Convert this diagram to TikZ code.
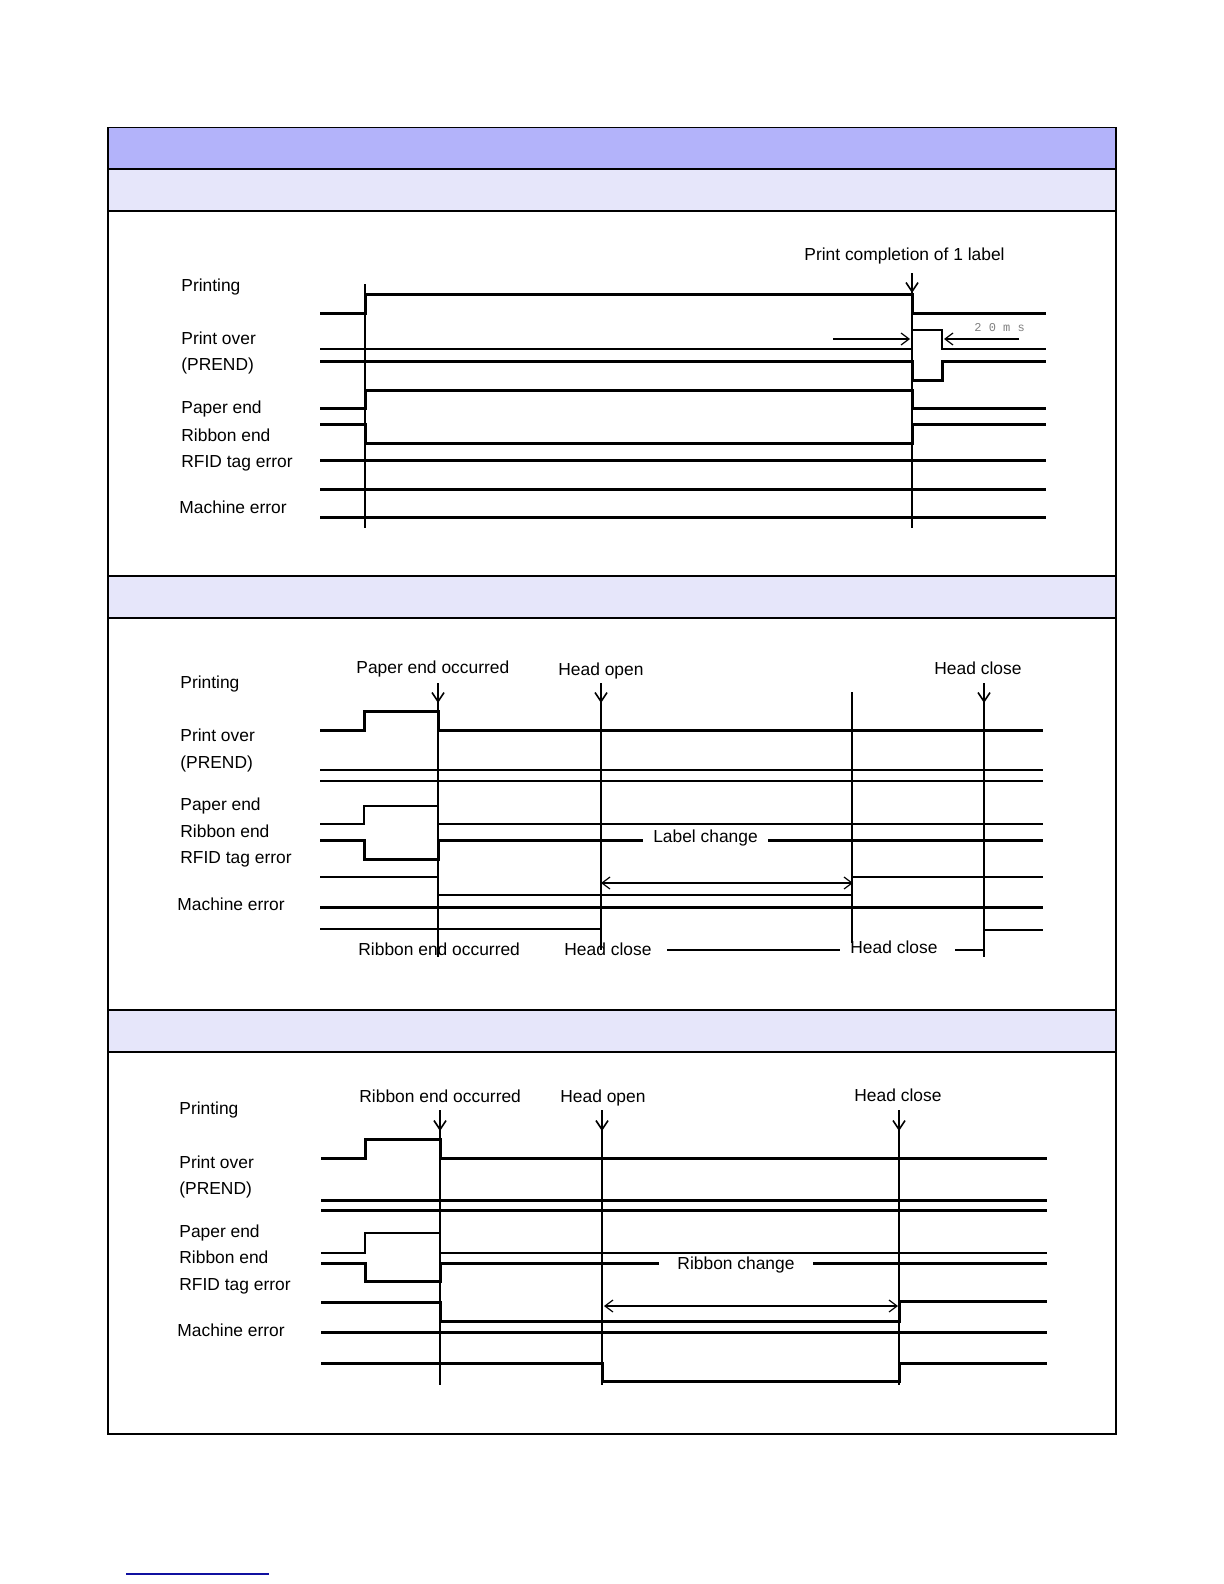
\documentclass[tikz,border=0pt]{standalone}
\usepackage{fontspec}
\setmainfont{Liberation Sans}
\newfontfamily\msfont{Liberation Mono}
\usetikzlibrary{arrows.meta}
\definecolor{hdrblue}{HTML}{B3B3FA}
\definecolor{bandblue}{HTML}{E6E6FA}
\definecolor{linkblue}{HTML}{1010A0}
\begin{document}
\begin{tikzpicture}[x=0.5pt,y=-0.5pt,
  lbl/.style={anchor=base west, inner sep=0pt, font=\fontsize{8.7}{10}\selectfont},
  gaplbl/.style={anchor=base, fill=white, inner xsep=5pt, inner ysep=1pt, font=\fontsize{8.7}{10}\selectfont},
  sig/.style={line width=1.5pt, line join=miter},
  sigmid/.style={line width=1.2pt, line join=miter},
  sigthin/.style={line width=1pt, line join=miter},
  evline/.style={line width=1pt},
  evarrow/.style={line width=0.8pt, -{Straight Barb[length=4.5pt,width=6pt]}},
  dimarrow/.style={line width=0.6pt, {Straight Barb[length=4pt,width=6pt]}-{Straight Barb[length=4pt,width=6pt]}},
  onearrow/.style={line width=0.6pt, -{Straight Barb[length=4pt,width=6pt]}},
  frame/.style={line width=0.7pt}]
\useasboundingbox (0,0) rectangle (1224,1584);

% ---------- frame and bands ----------
\fill[hdrblue] (108,127.5) rectangle (1116,169);
\fill[bandblue] (108,169) rectangle (1116,211);
\fill[bandblue] (108,576) rectangle (1116,618);
\fill[bandblue] (108,1010) rectangle (1116,1052);
\draw[frame] (108,127.5) rectangle (1116,1434);
\foreach \yy in {169,211,576,618,1010,1052} \draw[frame] (108,\yy) -- (1116,\yy);

% ================= PANEL 1 =================
\node[lbl] (a1) at (181,291) {Printing};
\node[lbl] (a2) at (181,344) {Print over};
\node[lbl] (a3) at (181,370) {(PREND)};
\node[lbl] (a4) at (181,413) {Paper end};
\node[lbl] (a5) at (181,441) {Ribbon end};
\node[lbl] (a6) at (181,467) {RFID tag error};
\node[lbl] (a7) at (179,513) {Machine error};
\node[lbl] (a8) at (804,260) {Print completion of 1 label};
\node[anchor=base west, inner sep=0pt, text=gray, font=\msfont\fontsize{6}{7}\selectfont] (a9) at (974,331) {2 0 m s};

\draw[sig] (320,313) -- (365,313) -- (365,294) -- (912,294) -- (912,313) -- (1046,313);
\draw[sigthin] (320,349) -- (912,349) -- (912,330) -- (942,330) -- (942,349) -- (1046,349);
\draw[sig] (320,361) -- (912,361) -- (912,380) -- (942,380) -- (942,361) -- (1046,361);
\draw[sig] (320,408) -- (365,408) -- (365,390) -- (912,390) -- (912,408) -- (1046,408);
\draw[sig] (320,424) -- (365,424) -- (365,443) -- (912,443) -- (912,424) -- (1046,424);
\draw[sig] (320,460) -- (1046,460);
\draw[sig] (320,489) -- (1046,489);
\draw[sig] (320,517) -- (1046,517);

\coordinate (e1t) at (365,284);  \coordinate (e1b) at (365,528);
\coordinate (e2t) at (912,273);  \coordinate (e2a) at (912,293); \coordinate (e2b) at (912,528);
\draw[evline] (e1t) -- (e1b);
\draw[evline] (e2t) -- (e2b);
\draw[evarrow] (e2t) -- (e2a);
\coordinate (ms1s) at (833,339); \coordinate (ms1e) at (910,339);
\coordinate (ms2s) at (1019,339); \coordinate (ms2e) at (944,339);
\draw[onearrow] (ms1s) -- (ms1e);
\draw[onearrow] (ms2s) -- (ms2e);

% ================= PANEL 2 =================
\node[lbl] (b1) at (180,688) {Printing};
\node[lbl] (b2) at (180,741) {Print over};
\node[lbl] (b3) at (180,768) {(PREND)};
\node[lbl] (b4) at (180,810) {Paper end};
\node[lbl] (b5) at (180,837) {Ribbon end};
\node[lbl] (b6) at (180,863) {RFID tag error};
\node[lbl] (b7) at (177,910) {Machine error};
\node[lbl] (b8) at (356,673) {Paper end occurred};
\node[lbl] (b9) at (558,675) {Head open};
\node[lbl] (b10) at (934,674) {Head close};

\draw[sig] (320,730) -- (364,730) -- (364,711) -- (438,711) -- (438,730) -- (1043,730);
\draw[sigthin] (320,770) -- (1043,770);
\draw[sigthin] (320,781) -- (1043,781);
\draw[sigthin] (320,824) -- (364,824) -- (364,806) -- (438,806) -- (438,824) -- (1043,824);
\draw[sig] (320,840) -- (364,840) -- (364,859) -- (438,859) -- (438,840) -- (1043,840);
\draw[sigmid] (320,877) -- (438,877) -- (438,895) -- (852,895) -- (852,877) -- (1043,877);
\draw[sig] (320,907) -- (1043,907);
\draw[sigmid] (320,929) -- (601,929) -- (601,950) -- (984,950) -- (984,930) -- (1043,930);

\node[gaplbl] (b11) at (705.5,842) {Label change};
\node[lbl] (b12) at (358,955) {Ribbon end occurred};
\node[gaplbl, anchor=base west, inner xsep=0pt] (b13) at (564,955) {Head close\hspace*{8pt}};
\node[gaplbl, anchor=base west, inner xsep=0pt] (b14) at (840,953) {\hspace*{5pt}Head close\hspace*{9pt}};

\coordinate (f1t) at (438,683); \coordinate (f1a) at (438,703); \coordinate (f1b) at (438,957);
\coordinate (f2t) at (601,683); \coordinate (f2a) at (601,703); \coordinate (f2b) at (601,950);
\coordinate (f3t) at (852,692); \coordinate (f3b) at (852,943);
\coordinate (f4t) at (984,683); \coordinate (f4a) at (984,703); \coordinate (f4b) at (984,957);
\draw[evline] (f1t) -- (f1b);
\draw[evline] (f2t) -- (f2b);
\draw[line width=1.3pt] (f3t) -- (f3b);
\draw[evline] (f4t) -- (f4b);
\draw[evarrow] (f1t) -- (f1a);
\draw[evarrow] (f2t) -- (f2a);
\draw[evarrow] (f4t) -- (f4a);
\coordinate (lc1) at (601,883); \coordinate (lc2) at (853,883);
\draw[dimarrow] (lc1) -- (lc2);

% ================= PANEL 3 =================
\node[lbl] (c1) at (179,1114) {Printing};
\node[lbl] (c2) at (179,1168) {Print over};
\node[lbl] (c3) at (179,1194) {(PREND)};
\node[lbl] (c4) at (179,1237) {Paper end};
\node[lbl] (c5) at (179,1263) {Ribbon end};
\node[lbl] (c6) at (179,1290) {RFID tag error};
\node[lbl] (c7) at (177,1336) {Machine error};
\node[lbl] (c8) at (359,1102) {Ribbon end occurred};
\node[lbl] (c9) at (560,1102) {Head open};
\node[lbl] (c10) at (854,1101) {Head close};

\draw[sig] (321,1158) -- (365,1158) -- (365,1139) -- (440,1139) -- (440,1158) -- (1047,1158);
\draw[sig] (321,1200) -- (1047,1200);
\draw[sig] (321,1210) -- (1047,1210);
\draw[sigmid] (321,1253) -- (365,1253) -- (365,1233) -- (440,1233) -- (440,1253) -- (1047,1253);
\draw[sig] (321,1263) -- (365,1263) -- (365,1281) -- (440,1281) -- (440,1263) -- (1047,1263);
\draw[sig] (321,1302) -- (440,1302) -- (440,1321) -- (899,1321) -- (899,1301) -- (1047,1301);
\draw[sig] (321,1332) -- (1047,1332);
\draw[sig] (321,1363) -- (602,1363) -- (602,1381) -- (899,1381) -- (899,1363) -- (1047,1363);

\node[gaplbl, inner xsep=9pt] (c11) at (736,1269) {Ribbon change};

\coordinate (g1t) at (440,1110); \coordinate (g1a) at (440,1131); \coordinate (g1b) at (440,1385);
\coordinate (g2t) at (602,1110); \coordinate (g2a) at (602,1131); \coordinate (g2b) at (602,1385);
\coordinate (g3t) at (899,1110); \coordinate (g3a) at (899,1131); \coordinate (g3b) at (899,1385);
\draw[evline] (g1t) -- (g1b);
\draw[evline] (g2t) -- (g2b);
\draw[evline] (g3t) -- (g3b);
\draw[evarrow] (g1t) -- (g1a);
\draw[evarrow] (g2t) -- (g2a);
\draw[evarrow] (g3t) -- (g3a);
\coordinate (rc1) at (604,1306); \coordinate (rc2) at (898,1306);
\draw[dimarrow] (rc1) -- (rc2);

% ---------- footer rule ----------
\coordinate (ft1) at (126,1574); \coordinate (ft2) at (269,1574);
\draw[linkblue, line width=0.6pt] (ft1) -- (ft2);
\end{tikzpicture}
\end{document}
